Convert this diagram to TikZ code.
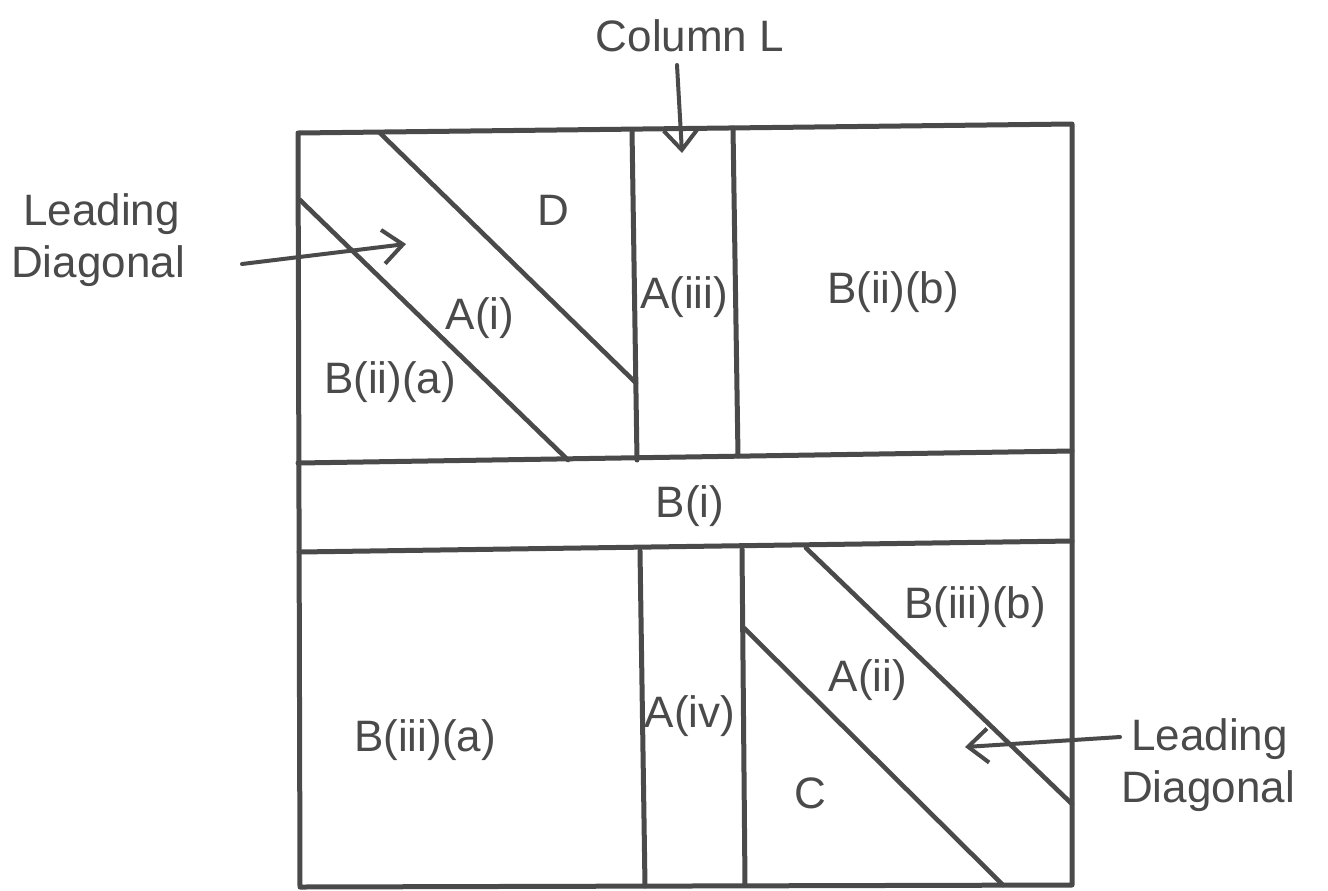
\documentclass[tikz,border=0pt]{standalone}
\usepackage{fontspec}
\setmainfont{Liberation Sans}
\usetikzlibrary{arrows.meta}
\definecolor{Cink}{HTML}{4a4a4a}

\tikzset{
  frame/.style={Cink, line width=2.5pt, line cap=round, line join=round},
  diag/.style={Cink, line width=2.3pt, line cap=round},
  pointer/.style={Cink, line width=2pt, line cap=round,
    -{Straight Barb[length=10pt, width=17pt, line width=2pt]}},
  lbl/.style={Cink, font=\fontsize{22}{26}\selectfont, inner sep=0pt},
  side/.style={lbl, align=left},
}

\begin{document}
\begin{tikzpicture}[x=0.5pt, y=-0.5pt]
		\useasboundingbox (0,0) rectangle (1328,890);
		
		%% outer square
		\coordinate (tl) at (298,133);
		\coordinate (tr) at (1072,124);
		\coordinate (br) at (1072,885);
		\coordinate (bl) at (300,887);
		\draw[frame] (tl) -- (tr) -- (br) -- (bl) -- cycle;
		
		%% band B(i) across the middle
		\coordinate (bandtl) at (298,463);
		\coordinate (bandtr) at (1072,451);
		\coordinate (bandbl) at (299,552);
		\coordinate (bandbr) at (1072,541);
		\draw[frame] (bandtl) -- (bandtr);
		\draw[frame] (bandbl) -- (bandbr);
		
		%% column L, upper half
		\draw[frame] (632,130) -- (637,460);
		\draw[frame] (733,128) -- (738,456);
		
		%% column L, lower half
		\draw[frame] (640,551) -- (645,886);
		\draw[frame] (742,549) -- (745,885);
		
		%% ── diagonals ─────────────────────────────────────────
		
		%% top left block
		\draw[diag] (380,133) -- (636,383);
		\draw[diag] (300,200) -- (568,460);
		
		%% bottom right block
		\draw[diag] (806,548) -- (1072,804);
		\draw[diag] (744,628) -- (1003,885);
		
		%% ── region labels ─────────────────────────────────────
		\node[lbl] (d)      at (553,210) {D};
		\node[lbl] (ai)     at (480,318) {A(i)};
		\node[lbl] (biia)   at (390,382) {B(ii)(a)};
		\node[lbl] (aiii)   at (684,297) {A(iii)};
		\node[lbl] (biib)   at (893,292) {B(ii)(b)};
		\node[lbl] (bi)     at (690,506) {B(i)};
		\node[lbl] (biiia)  at (425,740) {B(iii)(a)};
		\node[lbl] (aiv)    at (690,716) {A(iv)};
		\node[lbl] (aii)    at (868,680) {A(ii)};
		\node[lbl] (biiib)  at (975,607) {B(iii)(b)};
		\node[lbl] (c)      at (810,793) {C};
		
		%% ── side captions and pointers ────────────────────────
		\node[lbl] (coll) at (690,36) {Column L};
		\coordinate (colfrom) at (677,65);
		\coordinate (colto)   at (682,153);
		\draw[pointer] (colfrom) -- (colto);
		
		\node[side] (ldleft) at (98,240) {\hspace*{6pt}Leading\\Diagonal};
		\coordinate (ldlfrom) at (242,264);
		\coordinate (ldlto)   at (406,244);
		\draw[pointer] (ldlfrom) -- (ldlto);
		
		\node[side] (ldright) at (1208,765) {\hspace*{5pt}Leading\\Diagonal};
		\coordinate (ldrfrom) at (1120,737);
		\coordinate (ldrto)   at (965,747);
		\draw[pointer] (ldrfrom) -- (ldrto);
		
	\end{tikzpicture}
\end{document}
